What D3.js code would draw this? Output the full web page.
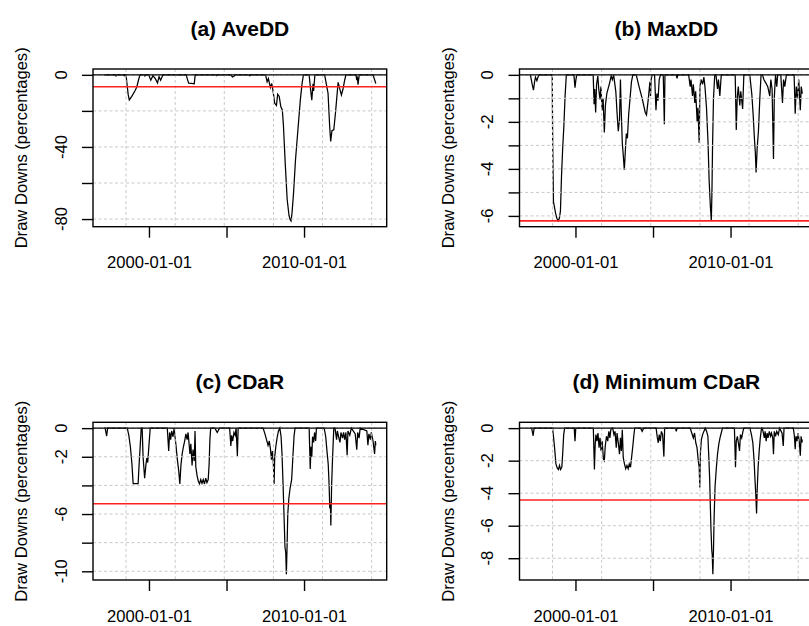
<!DOCTYPE html>
<html><head><meta charset="utf-8">
<script src="https://cdn.jsdelivr.net/npm/d3@7"></script>
<style>body{margin:0;background:#fff}svg{display:block}text{font-family:"Liberation Sans",Arial,sans-serif;fill:#000}</style>
</head><body><svg id="c" width="809" height="626"></svg>
<script>
const titles = ["(a) AveDD", "(b) MaxDD", "(c) CDaR", "(d) Minimum CDaR"];
const yLabel = "Draw Downs (percentages)";
const seriesStart = 1997.09, seriesEnd = 2014.63;

// [decimal year, drawdown %]
const aveDD = [
 [1997.09,0],[1997.80,0],[1997.87,-0.6],[1997.92,0],[1998.35,0],[1998.40,-0.5],[1998.45,0],
 [1998.52,0],[1998.60,-6.5],[1998.66,-11],[1998.73,-13.9],[1998.88,-12.1],[1999.10,-8.8],[1999.22,-6.6],[1999.32,-3.0],[1999.42,0],
 [1999.70,0],[1999.74,-0.6],[1999.78,0],
 [1999.98,0],[2000.12,-3.0],[2000.25,-0.5],[2000.40,-2.0],[2000.55,-4.5],[2000.65,-1.0],[2000.75,-3.0],[2000.90,0],
 [2002.40,0],[2002.48,-2.5],[2002.56,-4.6],[2002.75,-4.8],[2002.92,-5.0],[2002.98,0],
 [2004.30,0],[2004.36,-0.5],[2004.42,0],
 [2005.28,0],[2005.38,-1.2],[2005.48,-0.8],[2005.55,0],
 [2006.45,0],[2006.50,-0.5],[2006.55,0],
 [2007.52,0],[2007.62,-3.9],[2007.70,-2.0],[2007.83,-7.0],[2007.92,-4.8],[2008.01,-9.4],[2008.11,-15.8],[2008.22,-17.0],
 [2008.30,-10.8],[2008.40,-12.0],[2008.50,-17.6],[2008.60,-19.5],[2008.67,-28],[2008.78,-48],[2008.91,-69],[2009.03,-78],
 [2009.10,-80.2],[2009.16,-81],[2009.22,-77],[2009.32,-66],[2009.45,-47],[2009.60,-31],[2009.76,-14],[2009.87,-5],[2009.96,0],
 [2010.33,0],[2010.42,-8],[2010.50,-14],[2010.58,-5],[2010.62,-9],[2010.70,0],
 [2011.33,0],[2011.55,-10.3],[2011.65,-28],[2011.72,-36.9],[2011.80,-31],[2011.92,-30.5],[2012.03,-21],[2012.13,-11],
 [2012.20,-4.2],[2012.30,-7.5],[2012.41,-11.2],[2012.51,-8],[2012.62,-3],[2012.70,0],
 [2013.35,0],[2013.40,-2.9],[2013.44,-1.0],[2013.48,-5.5],[2013.56,0],
 [2014.45,0],[2014.63,-4.8]
];
const maxDD = [
 [1997.09,0],[1997.15,-0.2],[1997.22,-0.45],[1997.29,-0.65],[1997.36,-0.3],[1997.42,-0.1],[1997.51,-0.25],[1997.58,-0.1],[1997.65,0],
 [1998.50,0],[1998.53,-2.9],[1998.58,-5.4],[1998.64,-5.6],[1998.72,-5.9],[1998.80,-6.1],[1998.88,-6.21],[1998.96,-6.1],[1999.03,-5.8],
 [1999.10,-4.3],[1999.17,-3.2],[1999.25,-2.2],[1999.33,-0.9],[1999.41,0],
 [1999.90,0],[1999.97,-0.55],[2000.03,-0.2],[2000.08,0],
 [2001.14,0],[2001.20,-1.25],[2001.24,-0.6],[2001.30,-1.6],[2001.36,-0.4],[2001.44,-0.05],[2001.50,-0.6],[2001.58,-1.05],[2001.64,-0.5],
 [2001.72,-1.5],[2001.78,-1.0],[2001.86,-2.45],[2001.93,-1.3],[2002.02,-0.8],[2002.10,-0.6],[2002.20,-0.35],[2002.30,-0.05],[2002.38,-0.2],[2002.46,0],
 [2002.52,-0.3],[2002.60,-0.7],[2002.68,-1.6],[2002.76,-2.4],[2002.84,-1.9],[2002.90,-0.2],[2002.95,-1.5],[2003.02,-2.9],[2003.08,-3.4],
 [2003.15,-4.05],[2003.22,-3.2],[2003.28,-2.5],[2003.35,-2.7],[2003.43,-1.7],[2003.52,-1.0],[2003.61,-0.3],[2003.70,0],
 [2003.92,0],[2004.10,-0.5],[2004.30,-1.0],[2004.50,-1.6],[2004.58,-1.7],[2004.70,-1.0],[2004.80,-0.3],[2004.84,-0.9],[2004.88,-0.2],[2004.94,0],
 [2005.10,0],[2005.19,-1.5],[2005.25,-0.8],[2005.32,-1.1],[2005.40,-0.2],[2005.48,0],[2005.66,0],[2005.73,-2.1],[2005.77,0],
 [2006.50,0],[2006.55,-0.15],[2006.60,0],
 [2007.30,0],[2007.40,-0.5],[2007.45,-0.2],[2007.55,-0.9],[2007.60,-0.4],[2007.70,-1.2],[2007.75,-0.7],[2007.85,-2.0],[2007.90,-1.4],
 [2007.98,-2.9],[2008.03,-0.5],[2008.10,-0.2],[2008.20,-0.4],[2008.28,-0.1],[2008.35,-0.5],[2008.45,-1.4],[2008.55,-2.9],[2008.62,-4.5],
 [2008.70,-5.6],[2008.76,-6.2],[2008.80,-5.0],[2008.84,-3.0],[2008.90,-1.0],[2008.98,0],
 [2009.06,0],[2009.16,-0.6],[2009.22,-0.2],[2009.31,-0.9],[2009.40,0],
 [2010.30,0],[2010.37,-2.35],[2010.43,-1.0],[2010.50,-0.5],[2010.60,-1.3],[2010.66,-0.7],[2010.78,-1.45],[2010.86,0],
 [2011.24,0],[2011.37,-0.8],[2011.46,-1.7],[2011.54,-2.7],[2011.60,-3.3],[2011.65,-4.15],[2011.72,-3.1],[2011.80,-2.4],[2011.89,-1.0],[2011.97,0],
 [2012.06,0],[2012.15,-0.2],[2012.28,-0.35],[2012.40,-0.5],[2012.53,-0.9],[2012.60,-0.2],[2012.68,-0.6],[2012.77,-3.58],[2012.82,-1.0],
 [2012.90,0],[2012.98,-0.5],[2013.04,0],
 [2013.24,0],[2013.35,-1.2],[2013.42,-0.2],[2013.50,-0.5],[2013.60,0],
 [2014.10,0],[2014.17,-1.65],[2014.24,-0.5],[2014.32,-1.0],[2014.40,-0.2],[2014.50,-1.5],[2014.56,-0.5],[2014.63,-0.8]
];
const cdar = [
 [1997.09,0],[1997.17,0],[1997.27,-0.55],[1997.33,0],
 [1998.60,0],[1998.70,-0.5],[1998.80,-1.3],[1998.90,-2.5],[1998.98,-3.88],[1999.10,-3.88],[1999.30,-3.88],[1999.36,-2.6],[1999.42,-1.5],
 [1999.50,0],[1999.56,0],[1999.62,-2.0],[1999.72,-3.5],[1999.80,-2.6],[1999.86,-2.1],[1999.92,-2.4],[2000.00,-1.2],[2000.08,0],
 [2001.18,0],[2001.27,-1.6],[2001.33,-0.3],[2001.40,-0.8],[2001.46,-0.2],[2001.55,-0.6],[2001.62,0],[2001.68,-0.6],[2001.75,-1.3],
 [2001.83,-2.2],[2001.92,-3.0],[2001.99,-3.9],[2002.06,-2.6],[2002.14,-1.8],[2002.22,-1.3],[2002.30,-0.9],[2002.38,-0.4],[2002.46,-0.8],
 [2002.52,-0.3],[2002.58,-1.0],[2002.64,-1.8],[2002.70,-1.1],[2002.78,-2.6],[2002.84,-1.5],[2002.92,-2.3],[2002.97,-0.2],[2003.02,-2.7],
 [2003.10,-3.3],[2003.18,-3.7],[2003.26,-3.9],[2003.34,-3.6],[2003.42,-3.85],[2003.50,-3.6],[2003.58,-3.9],[2003.66,-3.5],[2003.74,-3.8],
 [2003.82,-3.6],[2003.88,-2.5],[2003.93,-0.8],[2003.98,0],
 [2004.25,0],[2004.40,-0.3],[2004.55,0],
 [2005.20,0],[2005.28,-1.25],[2005.33,-0.5],[2005.40,-0.9],[2005.48,-0.3],[2005.56,-0.5],[2005.62,0],[2005.70,-1.95],[2005.75,0],
 [2007.36,0],[2007.48,-0.4],[2007.58,-0.8],[2007.68,-1.2],[2007.76,-0.9],[2007.84,-1.5],[2007.90,-2.2],[2007.96,-1.6],[2008.02,-2.4],
 [2008.07,-3.9],[2008.11,-2.0],[2008.18,-1.3],[2008.26,-0.7],[2008.35,-0.2],[2008.44,0],[2008.52,-0.6],[2008.58,-1.8],[2008.65,-4.0],
 [2008.72,-6.5],[2008.77,-8.3],[2008.82,-8.7],[2008.86,-10.2],[2008.90,-8.5],[2008.95,-6.0],[2009.02,-4.9],[2009.10,-4.2],[2009.20,-3.6],
 [2009.28,-2.0],[2009.36,-0.5],[2009.42,0],
 [2010.33,0],[2010.40,-2.85],[2010.45,-1.3],[2010.50,-2.0],[2010.55,-0.6],[2010.62,-1.0],[2010.68,-0.3],[2010.75,-0.9],[2010.80,0],
 [2011.30,0],[2011.40,-0.6],[2011.48,-1.6],[2011.56,-2.5],[2011.62,-4.0],[2011.66,-5.6],[2011.70,-5.2],[2011.73,-6.8],[2011.78,-4.0],
 [2011.84,-2.1],[2011.92,0],
 [2012.00,0],[2012.10,-0.8],[2012.15,-0.2],[2012.25,-0.7],[2012.32,-1.0],[2012.38,-0.3],[2012.48,-0.7],[2012.55,-0.3],[2012.62,-0.8],
 [2012.70,-0.3],[2012.78,-1.9],[2012.83,-0.2],[2012.95,-0.5],[2013.05,0],[2013.30,-0.4],[2013.40,-1.5],[2013.46,-0.3],[2013.55,-0.7],
 [2013.62,0],[2014.05,-0.2],[2014.12,-1.2],[2014.18,-0.4],[2014.28,-0.8],[2014.34,-0.3],[2014.45,-0.9],[2014.55,-1.8],[2014.60,-0.9],[2014.63,-1.2]
];
const minCdar = [
 [1997.09,0],[1997.17,0],[1997.27,-0.47],[1997.33,0],
 [1998.52,0],[1998.58,-0.5],[1998.66,-1.3],[1998.74,-2.2],[1998.82,-2.45],[1998.90,-2.55],[1998.97,-2.3],[1999.04,-2.55],[1999.12,-2.4],
 [1999.18,-1.5],[1999.24,-0.4],[1999.30,0],[1999.92,0],[1999.97,-0.8],[2000.02,0],
 [2001.15,0],[2001.22,-2.55],[2001.27,-1.0],[2001.32,-0.4],[2001.38,-0.8],[2001.45,-0.3],[2001.52,-1.2],[2001.58,-0.6],[2001.65,-1.4],
 [2001.72,-0.8],[2001.80,-1.9],[2001.86,-2.0],[2001.92,-1.1],[2002.00,-0.5],[2002.08,-0.8],[2002.15,-0.2],[2002.22,-0.6],[2002.28,-0.1],[2002.35,0],
 [2002.40,0],[2002.48,-0.4],[2002.55,-0.2],[2002.63,-1.2],[2002.68,-0.3],[2002.76,-0.9],[2002.84,-1.6],[2002.90,-0.6],[2002.96,-1.4],
 [2003.02,-0.1],[2003.08,-1.8],[2003.16,-2.2],[2003.24,-2.5],[2003.32,-2.3],[2003.40,-2.5],[2003.47,-2.2],[2003.55,-2.4],[2003.62,-1.8],
 [2003.70,-1.1],[2003.76,-0.5],[2003.82,0],
 [2004.20,0],[2004.30,-0.2],[2004.40,0],
 [2005.20,0],[2005.28,-0.6],[2005.34,-0.9],[2005.40,-0.4],[2005.47,-0.8],[2005.54,-0.2],[2005.62,-0.4],[2005.70,-1.75],[2005.75,0],
 [2006.45,0],[2006.50,-0.2],[2006.55,0],
 [2007.40,0],[2007.50,-0.3],[2007.60,-0.6],[2007.68,-0.3],[2007.76,-0.9],[2007.84,-1.2],[2007.92,-2.0],[2007.98,-2.4],[2008.02,-3.65],
 [2008.06,-1.5],[2008.12,-0.7],[2008.20,-0.4],[2008.28,-0.2],[2008.37,0],[2008.46,-0.2],[2008.54,-0.5],[2008.60,-1.8],[2008.65,-3.0],
 [2008.69,-4.5],[2008.74,-6.3],[2008.79,-7.5],[2008.82,-7.8],[2008.86,-8.98],[2008.90,-7.5],[2008.94,-5.5],[2009.00,-3.6],[2009.08,-2.5],
 [2009.16,-1.6],[2009.24,-1.0],[2009.32,-0.6],[2009.40,-0.3],[2009.48,0],
 [2010.25,0],[2010.32,-2.4],[2010.37,-0.8],[2010.44,-0.5],[2010.52,-1.0],[2010.58,-1.4],[2010.64,-0.4],[2010.72,-0.6],[2010.80,-0.2],[2010.86,0],
 [2011.25,0],[2011.35,-0.4],[2011.44,-0.9],[2011.52,-2.0],[2011.58,-3.2],[2011.63,-4.1],[2011.68,-5.25],[2011.72,-3.8],[2011.78,-2.4],
 [2011.85,-1.4],[2011.92,-0.6],[2012.00,0],
 [2012.05,0],[2012.12,-0.3],[2012.18,-0.6],[2012.23,-0.2],[2012.30,-0.8],[2012.36,-0.3],[2012.42,-0.6],[2012.50,-0.2],[2012.58,-0.5],
 [2012.64,-0.3],[2012.72,-0.6],[2012.77,-1.6],[2012.82,-0.2],[2012.90,-0.5],[2012.98,-0.2],[2013.08,-0.4],[2013.16,0],[2013.32,-0.3],
 [2013.40,-1.1],[2013.45,0],[2014.05,0],[2014.12,-0.5],[2014.17,-1.3],[2014.22,-0.5],[2014.30,-0.8],[2014.36,-0.3],[2014.44,-0.9],
 [2014.50,-1.7],[2014.55,-0.5],[2014.60,-0.9],[2014.63,-0.7]
];
const thresholds = [-6.6, -6.21, -5.28, -4.42];
const yTicks = [[0,-20,-40,-60,-80],[0,-1,-2,-3,-4,-5,-6],[0,-2,-4,-6,-8,-10],[0,-2,-4,-6,-8]];
const yTickLabels = [["0","","-40","","-80"],["0","","-2","","-4","","-6"],["0","-2","","-6","","-10"],["0","-2","-4","-6","-8"]];
const xTickDates = ["2000-01-01","2005-01-01","2010-01-01"];
const xTickLabels = ["2000-01-01","","2010-01-01"];
const gridSeconds = [9e8, 1e9, 1.1e9, 1.2e9, 1.3e9, 1.4e9];

const series = [aveDD, maxDD, cdar, minCdar];
const cellW = 426.5, cellH = 353.3;
const mL = 93, mT = 69, pw = 293.7, ph = 157.7;
const FS = 16.6;

function toDate(y){const yr=Math.floor(y);const s=Date.UTC(yr,0,1),e=Date.UTC(yr+1,0,1);return new Date(s+(y-yr)*(e-s));}

const svg = d3.select("#c");
series.forEach((data,i)=>{
  const ox=(i%2)*cellW, oy=Math.floor(i/2)*cellH;
  const g=svg.append("g").attr("transform",`translate(${ox+mL},${oy+mT})`);
  const d0=+toDate(seriesStart), d1=+toDate(seriesEnd), span=d1-d0;
  const x=d3.scaleUtc().domain([new Date(d0-0.04*span),new Date(d1+0.04*span)]).range([0,pw]);
  const vmin=d3.min(data,d=>d[1]), vmax=d3.max(data,d=>d[1]), r=vmax-vmin;
  const y=d3.scaleLinear().domain([vmin-0.04*r,vmax+0.04*r]).range([ph,0]);

  g.append("clipPath").attr("id","clip"+i).append("rect").attr("width",pw).attr("height",ph);
  const inner=g.append("g").attr("clip-path",`url(#clip${i})`);

  inner.append("path").datum(data)
    .attr("d",d3.line().x(d=>x(toDate(d[0]))).y(d=>y(d[1])))
    .attr("fill","none").attr("stroke","#000").attr("stroke-width",1.25).attr("stroke-linejoin","miter");

  inner.selectAll(".gv").data(gridSeconds).join("line")
    .attr("x1",s=>x(new Date(s*1000))).attr("x2",s=>x(new Date(s*1000)))
    .attr("y1",0).attr("y2",ph)
    .attr("stroke","#c8c8c8").attr("stroke-width",1).attr("stroke-dasharray","3,2.5");
  inner.selectAll(".gh").data(yTicks[i]).join("line")
    .attr("x1",0).attr("x2",pw).attr("y1",v=>y(v)).attr("y2",v=>y(v))
    .attr("stroke","#c8c8c8").attr("stroke-width",1).attr("stroke-dasharray","3,2.5");

  inner.append("line").attr("x1",0).attr("x2",pw).attr("y1",y(0)).attr("y2",y(0))
    .attr("stroke","#000").attr("stroke-width",1.4);
  inner.append("line").attr("x1",0).attr("x2",pw).attr("y1",y(thresholds[i])).attr("y2",y(thresholds[i]))
    .attr("stroke","#ff2020").attr("stroke-width",1.7);

  g.append("rect").attr("width",pw).attr("height",ph).attr("fill","none")
    .attr("stroke","#000").attr("stroke-width",1.4);

  const xa=g.append("g").attr("transform",`translate(0,${ph})`)
    .call(d3.axisBottom(x).tickValues(xTickDates.map(s=>new Date(s+"T00:00:00Z")))
      .tickSize(11).tickPadding(18.8).tickFormat((d,k)=>xTickLabels[k]));
  xa.select(".domain").remove();
  xa.selectAll(".tick line").attr("stroke","#000").attr("stroke-width",1.4);
  xa.selectAll("text").attr("font-size",FS).attr("font-family","'Liberation Sans',Arial,sans-serif").attr("fill","#000");

  const ya=g.append("g").call(d3.axisLeft(y).tickValues(yTicks[i]).tickSize(11).tickFormat(""));
  ya.select(".domain").remove();
  ya.selectAll(".tick line").attr("stroke","#000").attr("stroke-width",1.4);
  g.selectAll(".ylab").data(yTicks[i]).join("text")
    .attr("transform",v=>`translate(-26.3,${y(v)}) rotate(-90)`)
    .attr("text-anchor","middle").attr("font-size",FS)
    .text((v,k)=>yTickLabels[i][k]);

  g.append("text").attr("transform",`translate(-66,${ph/2}) rotate(-90)`)
    .attr("text-anchor","middle").attr("font-size",FS).text(yLabel);
  g.append("text").attr("x",pw/2).attr("y",-33).attr("text-anchor","middle")
    .attr("font-size",21).attr("font-weight","bold").text(titles[i]);
});
</script></body></html>
